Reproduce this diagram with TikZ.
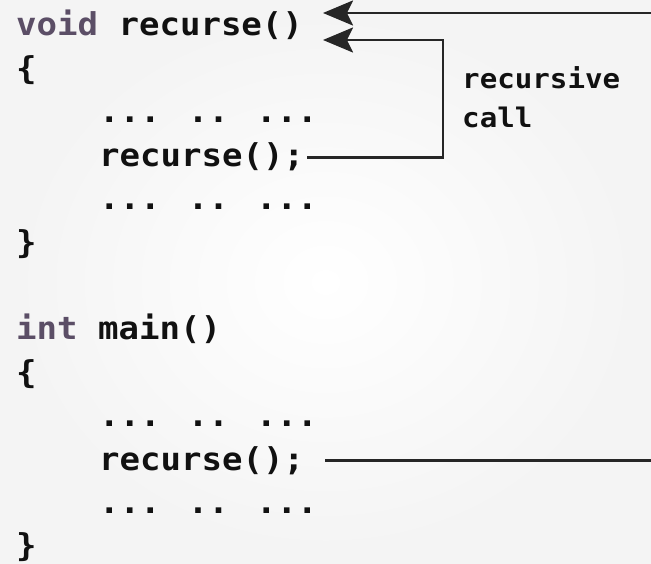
\documentclass[tikz,border=0pt]{standalone}
\usepackage{fontspec}
\newfontfamily\codefont{DejaVu Sans Mono}[FakeStretch=1.08]
\usetikzlibrary{arrows.meta}
\definecolor{kwcol}{HTML}{5B4E66}
\definecolor{inkcol}{HTML}{111111}
\definecolor{wirecol}{HTML}{262626}

\begin{document}
\begin{tikzpicture}[x=1pt, y=-1pt,
 code/.style={anchor=base west,inner sep=3pt,text=inkcol,font=\codefont\bfseries\fontsize{31.5}{36}\selectfont},
 note/.style={anchor=base west,inner sep=3pt,align=left,text=inkcol,font=\codefont\bfseries\fontsize{27}{39}\selectfont},
 arr/.style={-{Stealth[length=30pt,width=25pt,inset=6pt]},line width=2.5pt,draw=wirecol},
 wire/.style={line width=2.5pt,draw=wirecol}]
\useasboundingbox (0,0) rectangle (651,564);
\shade[inner color=white,outer color=gray!9] (0,0) rectangle (651,564);
\node[code] (l1) at (13,36) {\textcolor{kwcol}{void} recurse()};
\node[code] (l2) at (13,80) {\{};
\node[code] (l3) at (96,123) {... .. ...};
\node[code] (l4) at (96,167) {recurse();};
\node[code] (l5) at (96,210) {... .. ...};
\node[code] (l6) at (13,254) {\}};
\node[code] (l8) at (13,339) {\textcolor{kwcol}{int} main()};
\node[code] (l9) at (13,383) {\{};
\node[code] (l10) at (96,426) {... .. ...};
\node[code] (l11) at (96,470) {recurse();};
\node[code] (l12) at (96,513) {... .. ...};
\node[code] (l13) at (13,556) {\}};
\node[note] (lbl) at (459,128) {recursive\\call};
\coordinate (hookin) at (651,13);
\coordinate (tipa) at (323,13);
\coordinate (tipb) at (323,40);
\coordinate (turn) at (443,40);
\coordinate (mainout) at (651,460);
\draw[arr] (hookin) -- (tipa);
\draw[arr] (l4.east) -| (turn) -- (tipb);
\draw[wire] ([xshift=18pt]l11.east) -- (l11.east -| mainout);
\end{tikzpicture}
\end{document}
